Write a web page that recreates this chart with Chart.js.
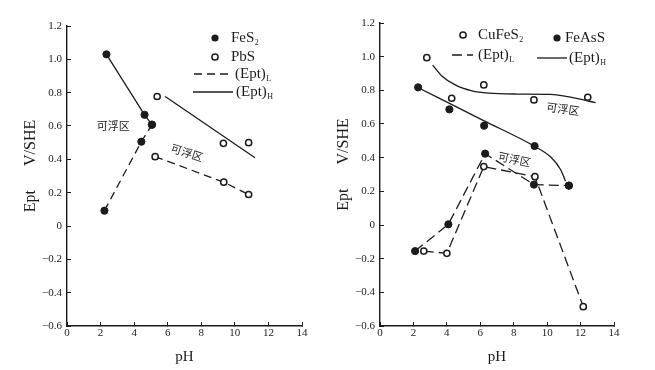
<!DOCTYPE html>
<html>
<head>
<meta charset="utf-8">
<script src="https://cdn.jsdelivr.net/npm/chart.js@4.4.1/dist/chart.umd.min.js"></script>
<style>
  html, body { margin: 0; padding: 0; background: #fff; }
  #wrap { position: relative; width: 655px; height: 370px; overflow: hidden; }
  .panel { position: absolute; top: 0; height: 370px; }
</style>
</head>
<body>
<div id="wrap">
  <div class="panel" style="left:0;width:327px"><canvas id="leftChart" width="327" height="370"></canvas></div>
  <div class="panel" style="left:327px;width:328px"><canvas id="rightChart" width="328" height="370"></canvas></div>
</div>
<script>
// tick labels (both panels)
const xTicks = [0, 2, 4, 6, 8, 10, 12, 14];
const yTicks = [-0.6, -0.4, -0.2, 0, 0.2, 0.4, 0.6, 0.8, 1.0, 1.2];

// left panel: FeS2 and PbS
const fes2HighPH = [2.35, 4.62, 5.06];
const fes2HighE  = [1.03, 0.667, 0.608];
const fes2LowPH  = [2.23, 4.43, 5.06];
const fes2LowE   = [0.092, 0.506, 0.608];
const pbsHighPH  = [5.37, 9.32, 10.82];
const pbsHighE   = [0.777, 0.496, 0.50];
const pbsHighLinePH = [5.85, 11.2];
const pbsHighLineE  = [0.777, 0.41];
const pbsLowPH   = [5.25, 9.34, 10.82];
const pbsLowE    = [0.416, 0.263, 0.189];

// right panel: CuFeS2 and FeAsS
const cuHighPH = [2.8, 4.29, 6.21, 9.21, 12.43];
const cuHighE  = [0.994, 0.753, 0.832, 0.743, 0.759];
const cuHighCurvePH = [3.15, 3.7, 4.5, 5.5, 6.5, 8.2, 10.2, 11.6, 12.9];
const cuHighCurveE  = [0.95, 0.885, 0.832, 0.797, 0.783, 0.778, 0.776, 0.755, 0.727];
const cuLowPH  = [2.62, 4.0, 6.21, 9.27, 12.16];
const cuLowE   = [-0.155, -0.168, 0.347, 0.287, -0.485];
const asHighPH = [2.28, 4.15, 6.23, 9.25, 11.3];
const asHighE  = [0.818, 0.687, 0.59, 0.469, 0.234];
const asHighCurvePH = [2.2, 6.2, 9.2, 10.2, 10.8, 11.1];
const asHighCurveE  = [0.82, 0.62, 0.47, 0.405, 0.33, 0.26];
const asLowPH  = [2.1, 4.09, 6.29, 9.21, 11.3];
const asLowE   = [-0.155, 0.004, 0.424, 0.24, 0.234];

const ink = '#1b1b1b';
const serif = '"Liberation Serif", "DejaVu Serif", serif';
const cjk = '"Noto Sans CJK SC", sans-serif';

Chart.defaults.font.family = serif;
Chart.defaults.color = ink;

function pts(xs, ys) {
    return xs.map((x, i) => ({ x: x, y: ys[i] }));
}

// dot = filled marker, ring = open marker
function series(xs, ys, marker, line, dash) {
    return {
        data: pts(xs, ys),
        showLine: line,
        borderColor: ink,
        borderWidth: 1.3,
        borderDash: dash || [],
        tension: 0,
        pointRadius: marker === 'dot' ? 3.6 : (marker === 'ring' ? 3.1 : 0),
        pointBackgroundColor: marker === 'dot' ? ink : '#fff',
        pointBorderColor: ink,
        pointBorderWidth: marker === 'ring' ? 1.5 : 1
    };
}

function curve(xs, ys) {
    const d = series(xs, ys, null, true);
    d.cubicInterpolationMode = 'monotone';
    return d;
}

function yLabel(v) {
    if (Math.abs(v) < 1e-9) return '0';
    return (v < 0 ? '\u2212' : '') + Math.abs(v).toFixed(1);
}

function makeScales(yWidth, yTitlePad) {
    return {
        x: {
            type: 'linear', min: 0, max: 14,
            afterBuildTicks: s => { s.ticks = xTicks.map(v => ({ value: v })); },
            afterFit: s => { s.height = 44; },
            grid: { drawOnChartArea: false, tickLength: -4, color: ink, lineWidth: 1 },
            border: { color: ink, width: 1.4 },
            ticks: { autoSkip: false, maxRotation: 0, padding: 5, font: { size: 11 }, color: ink,
                     callback: v => String(v) },
            title: { display: true, text: 'pH', font: { size: 15 }, color: ink,
                     padding: { top: 0, bottom: 4 } }
        },
        y: {
            type: 'linear', min: -0.6, max: 1.2,
            afterBuildTicks: s => { s.ticks = yTicks.map(v => ({ value: v })); },
            afterFit: s => { s.width = yWidth; },
            grid: { drawOnChartArea: false, tickLength: -4, color: ink, lineWidth: 1 },
            border: { color: ink, width: 1.4 },
            ticks: { autoSkip: false, padding: 9, font: { size: 11 }, color: ink, callback: yLabel },
            title: { display: true, text: '     Ept      V/SHE', font: { size: 16 }, color: ink,
                     padding: { top: yTitlePad, bottom: 0 } }
        }
    };
}

// legend and region labels drawn onto the canvas as text
const paperNotes = {
    id: 'paperNotes',
    afterDraw(chart, args, opts) {
        const ctx = chart.ctx;
        ctx.save();
        ctx.fillStyle = ink;
        ctx.strokeStyle = ink;
        (opts.legend || []).forEach(it => {
            ctx.lineWidth = 1.3;
            if (it.kind === 'dot' || it.kind === 'ring') {
                ctx.beginPath();
                ctx.arc(it.x, it.y, it.kind === 'dot' ? 3.6 : 3.1, 0, Math.PI * 2);
                if (it.kind === 'dot') ctx.fill();
                else { ctx.lineWidth = 1.5; ctx.stroke(); }
            } else {
                ctx.setLineDash(it.kind === 'dash' ? opts.dash : []);
                ctx.beginPath();
                ctx.moveTo(it.x, it.y);
                ctx.lineTo(it.x2, it.y);
                ctx.stroke();
                ctx.setLineDash([]);
            }
            ctx.font = '15px ' + serif;
            ctx.textBaseline = 'middle';
            ctx.textAlign = 'left';
            ctx.fillText(it.text, it.tx, it.y);
            if (it.sub) {
                const w = ctx.measureText(it.text).width;
                ctx.font = '8px ' + serif;
                ctx.fillText(it.sub, it.tx + w + 0.5, it.y + 5);
            }
        });
        const xs = chart.scales.x, ys = chart.scales.y;
        (opts.regions || []).forEach(r => {
            ctx.save();
            ctx.translate(xs.getPixelForValue(r.pH), ys.getPixelForValue(r.E));
            ctx.rotate(r.rot * Math.PI / 180);
            ctx.font = '11px ' + cjk;
            ctx.textAlign = 'center';
            ctx.textBaseline = 'middle';
            ctx.fillText('可浮区', 0, 0);
            ctx.restore();
        });
        ctx.restore();
    }
};

new Chart(document.getElementById('leftChart'), {
    type: 'scatter',
    data: {
        datasets: [
            series(fes2HighPH, fes2HighE, 'dot', true),
            series(fes2LowPH, fes2LowE, 'dot', true, [8, 5]),
            series(pbsHighPH, pbsHighE, 'ring', false),
            series(pbsLowPH, pbsLowE, 'ring', true, [8, 5]),
            series(pbsHighLinePH, pbsHighLineE, null, true)
        ]
    },
    options: {
        responsive: false,
        animation: false,
        layout: { padding: { left: 0, top: 26, right: 25, bottom: 0 } },
        plugins: {
            legend: { display: false },
            tooltip: { enabled: false },
            paperNotes: {
                dash: [8, 5],
                legend: [
                    { kind: 'dot', x: 215, y: 38, text: 'FeS', sub: '2', tx: 231 },
                    { kind: 'ring', x: 215, y: 57, text: 'PbS', tx: 231 },
                    { kind: 'dash', x: 194, x2: 230, y: 74, text: '(Ept)', sub: 'L', tx: 235 },
                    { kind: 'solid', x: 193, x2: 233, y: 92, text: '(Ept)', sub: 'H', tx: 236 }
                ],
                regions: [
                    { pH: 2.75, E: 0.6, rot: 0 },
                    { pH: 7.15, E: 0.44, rot: 18 }
                ]
            }
        },
        scales: makeScales(67, 21)
    },
    plugins: [paperNotes]
});

new Chart(document.getElementById('rightChart'), {
    type: 'scatter',
    data: {
        datasets: [
            series(cuHighPH, cuHighE, 'ring', false),
            series(asHighPH, asHighE, 'dot', false),
            series(cuLowPH, cuLowE, 'ring', true, [10, 5]),
            series(asLowPH, asLowE, 'dot', true, [10, 5]),
            curve(cuHighCurvePH, cuHighCurveE),
            curve(asHighCurvePH, asHighCurveE)
        ]
    },
    options: {
        responsive: false,
        animation: false,
        layout: { padding: { left: 0, top: 23, right: 41, bottom: 0 } },
        plugins: {
            legend: { display: false },
            tooltip: { enabled: false },
            paperNotes: {
                dash: [10, 5],
                legend: [
                    { kind: 'ring', x: 136, y: 35, text: 'CuFeS', sub: '2', tx: 151 },
                    { kind: 'dot', x: 230, y: 38, text: 'FeAsS', tx: 238 },
                    { kind: 'dash', x: 125, x2: 146, y: 55, text: '(Ept)', sub: 'L', tx: 151 },
                    { kind: 'solid', x: 210, x2: 240, y: 58, text: '(Ept)', sub: 'H', tx: 242 }
                ],
                regions: [
                    { pH: 10.95, E: 0.69, rot: 8 },
                    { pH: 8.05, E: 0.39, rot: 12 }
                ]
            }
        },
        scales: makeScales(53, 7)
    },
    plugins: [paperNotes]
});
</script>
</body>
</html>
